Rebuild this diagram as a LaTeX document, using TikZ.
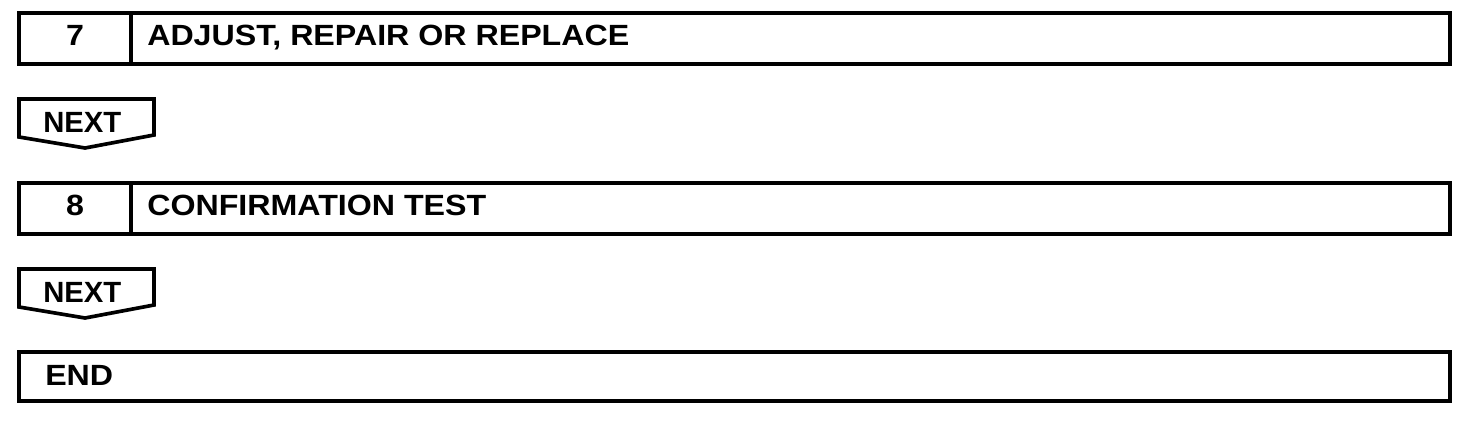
\documentclass[tikz,border=0pt]{standalone}
\usepackage{fontspec}
\setmainfont{Liberation Sans}[FakeStretch=1.10]
\newfontfamily\nextfont{Liberation Sans}
\begin{document}
\begin{tikzpicture}[x=0.025cm, y=-0.025cm]
		\tikzstyle{every node}=[font=\fontsize{20.8}{24}\selectfont\bfseries, inner sep=0pt]
		\tikzstyle{frame}=[line width=2.6pt, line join=miter]
		\useasboundingbox (0,0) rectangle (1472,424);
		\draw [frame] (19,13) rectangle (1450,64);
		\draw [frame] (131,13) -- (131,64);
		\node (num7) [anchor=base] at (75,45) {7};
		\node (step7) [anchor=base west] at (147,45) {ADJUST, REPAIR OR REPLACE};
		\draw [frame] (19,137) -- (19,99) -- (154,99) -- (154,135) -- (85,148) -- cycle;
		\node (next1) [anchor=base west, font=\fontsize{20.8}{24}\nextfont\bfseries] at (43,132) {NEXT};
		\draw [frame] (19,183) rectangle (1450,234);
		\draw [frame] (131,183) -- (131,234);
		\node (num8) [anchor=base] at (75,215) {8};
		\node (step8) [anchor=base west] at (147,215) {CONFIRMATION TEST};
		\draw [frame] (19,307) -- (19,269) -- (154,269) -- (154,305) -- (85,318) -- cycle;
		\node (next2) [anchor=base west, font=\fontsize{20.8}{24}\nextfont\bfseries] at (43,302) {NEXT};
		\draw [frame] (19,352) rectangle (1450,401);
		\node (finish) [anchor=base west] at (45,385) {END};
\end{tikzpicture}
\end{document}
